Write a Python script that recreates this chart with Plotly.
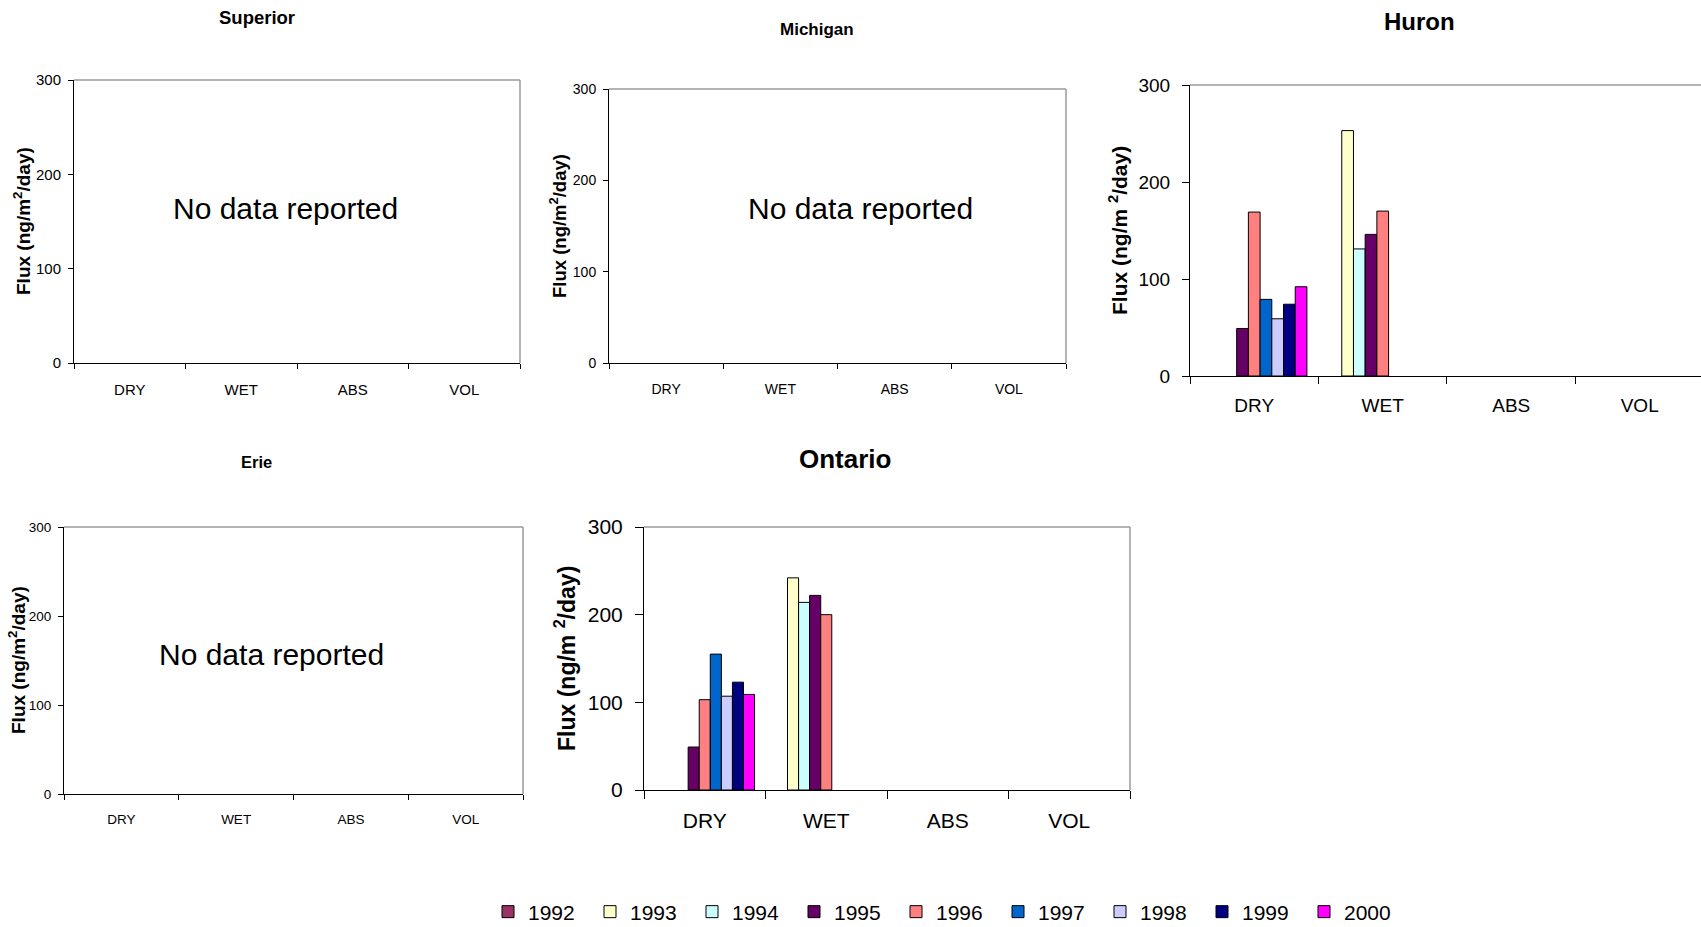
import plotly.graph_objects as go

W, H = 1701, 927

categories = ["DRY", "WET", "ABS", "VOL"]
years = ["1992", "1993", "1994", "1995", "1996", "1997", "1998", "1999", "2000"]
year_colors = ["#993366", "#FFFFCC", "#CCFFFF", "#660066", "#FF8080",
               "#0066CC", "#CCCCFF", "#000080", "#FF00FF"]

# Flux (ng/m2/day) by year; None = not reported
huron_dry = [None, None, None, 49, 169, 79, 59, 74, 92]
huron_wet = [None, 253, 131, 146, 170, None, None, None, None]
ontario_dry = [None, None, None, 49, 103, 155, 107, 123, 109]
ontario_wet = [None, 242, 214, 222, 200, None, None, None, None]
no_report = [None] * len(years)

y_ticks = [0, 100, 200, 300]

FONT = "Liberation Sans, Arial"


def px(x):
    return x / W


def py(y):
    return 1 - y / H


# panel layout in pixels: left, right, top, bottom
lakes = [
    dict(name="Superior", dry=no_report, wet=no_report, box=(74, 520, 80, 363),
         title_xy=(257, 18), title_size=18.5, tick_size=15,
         ylab_xy=(22, 221), ylab_size=19,
         ylab="Flux (ng/m<sup>2</sup>/day)", note_xy=(285, 208), ticklen=5,
         xr=[-0.5, 3.5], standoff_y=4, standoff_x=13),
    dict(name="Michigan", dry=no_report, wet=no_report, box=(609, 1066, 89, 363),
         title_xy=(817, 30), title_size=17, tick_size=14,
         ylab_xy=(558, 226), ylab_size=18.5,
         ylab="Flux (ng/m<sup>2</sup>/day)", note_xy=(860, 208), ticklen=5,
         xr=[-0.5, 3.5], standoff_y=4, standoff_x=13),
    dict(name="Huron", dry=huron_dry, wet=huron_wet, box=(1190, 1701, 85, 376),
         title_xy=(1419, 22), title_size=24, tick_size=19,
         ylab_xy=(1118, 231), ylab_size=21,
         ylab="Flux (ng/m <sup>2</sup>/day)", note_xy=None, ticklen=7,
         xr=[-0.5, 3.477], standoff_y=8, standoff_x=12),
    dict(name="Erie", dry=no_report, wet=no_report, box=(64, 523, 527, 794),
         title_xy=(256, 462), title_size=16.5, tick_size=13.5,
         ylab_xy=(17, 660), ylab_size=19,
         ylab="Flux (ng/m<sup>2</sup>/day)", note_xy=(271, 654), ticklen=5,
         xr=[-0.5, 3.5], standoff_y=4, standoff_x=13),
    dict(name="Ontario", dry=ontario_dry, wet=ontario_wet, box=(644, 1130, 527, 790),
         title_xy=(845, 459), title_size=26, tick_size=21,
         ylab_xy=(565, 659), ylab_size=23,
         ylab="Flux (ng/m <sup>2</sup>/day)", note_xy=None, ticklen=8,
         xr=[-0.5, 3.5], standoff_y=8, standoff_x=12),
]

fig = go.Figure()
annotations = []
shapes = []
layout_axes = {}

for k, lake in enumerate(lakes, start=1):
    xa = "x" if k == 1 else f"x{k}"
    ya = "y" if k == 1 else f"y{k}"
    l, r, t, b = lake["box"]

    for i, yr in enumerate(years):
        fig.add_trace(go.Bar(
            x=categories,
            y=[lake["dry"][i], lake["wet"][i], None, None],
            name=yr,
            legendgroup=yr,
            showlegend=(lake["name"] == "Ontario"),
            marker=dict(color=year_colors[i], line=dict(color="#000000", width=1)),
            xaxis=xa, yaxis=ya,
        ))

    tick_font = dict(family=FONT, size=lake["tick_size"], color="#000000")
    axis_key = "xaxis" if k == 1 else f"xaxis{k}"
    yaxis_key = "yaxis" if k == 1 else f"yaxis{k}"
    layout_axes[axis_key] = dict(
        domain=[px(l), px(r)], anchor=ya, type="category",
        categoryorder="array", categoryarray=categories, range=lake["xr"],
        showline=True, linecolor="#000000", linewidth=1,
        ticks="outside", tickson="boundaries", ticklen=lake["ticklen"],
        tickcolor="#000000", showgrid=False, zeroline=False,
        tickfont=tick_font, automargin=False,
        ticklabelstandoff=lake["standoff_x"], fixedrange=True,
    )
    layout_axes[yaxis_key] = dict(
        domain=[py(b), py(t)], anchor=xa, range=[0, 300],
        tickvals=y_ticks, showline=True, linecolor="#000000", linewidth=1,
        ticks="outside", ticklen=lake["ticklen"], tickcolor="#000000",
        showgrid=False, zeroline=False, tickfont=tick_font, automargin=False,
        ticklabelstandoff=lake["standoff_y"], fixedrange=True,
    )

    # grey frame on the top and right sides of the plot area
    shapes.append(dict(type="line", xref=f"{xa} domain", yref=f"{ya} domain",
                       x0=0, x1=1, y0=1, y1=1, line=dict(color="#9a9a9a", width=1.5)))
    if r < W:
        shapes.append(dict(type="line", xref=f"{xa} domain", yref=f"{ya} domain",
                           x0=1, x1=1, y0=0, y1=1, line=dict(color="#9a9a9a", width=1.5)))

    annotations.append(dict(
        text=f"<b>{lake['name']}</b>", x=px(lake["title_xy"][0]), y=py(lake["title_xy"][1]),
        xref="paper", yref="paper", showarrow=False, xanchor="center", yanchor="middle",
        font=dict(family=FONT, size=lake["title_size"], color="#000000"),
    ))
    annotations.append(dict(
        text=f"<b>{lake['ylab']}</b>", x=px(lake["ylab_xy"][0]), y=py(lake["ylab_xy"][1]),
        xref="paper", yref="paper", showarrow=False, textangle=-90,
        xanchor="center", yanchor="middle",
        font=dict(family=FONT, size=lake["ylab_size"], color="#000000"),
    ))
    if lake["note_xy"] is not None:
        annotations.append(dict(
            text="No data reported", x=px(lake["note_xy"][0]), y=py(lake["note_xy"][1]),
            xref="paper", yref="paper", showarrow=False, xanchor="center", yanchor="middle",
            font=dict(family=FONT, size=30, color="#000000"),
        ))

fig.update_layout(
    width=W, height=H,
    margin=dict(l=0, r=0, t=0, b=0, autoexpand=False),
    paper_bgcolor="#FFFFFF", plot_bgcolor="#FFFFFF",
    barmode="group", bargap=0.18, bargroupgap=0,
    annotations=annotations, shapes=shapes,
    legend=dict(
        orientation="h", x=px(488), y=py(912), xanchor="left", yanchor="middle",
        entrywidth=57, entrywidthmode="pixels",
        font=dict(family=FONT, size=21, color="#000000"),
        traceorder="normal", bgcolor="rgba(0,0,0,0)",
    ),
    showlegend=True,
    **layout_axes,
)

fig.write_html("out.html", config={"displayModeBar": False})
